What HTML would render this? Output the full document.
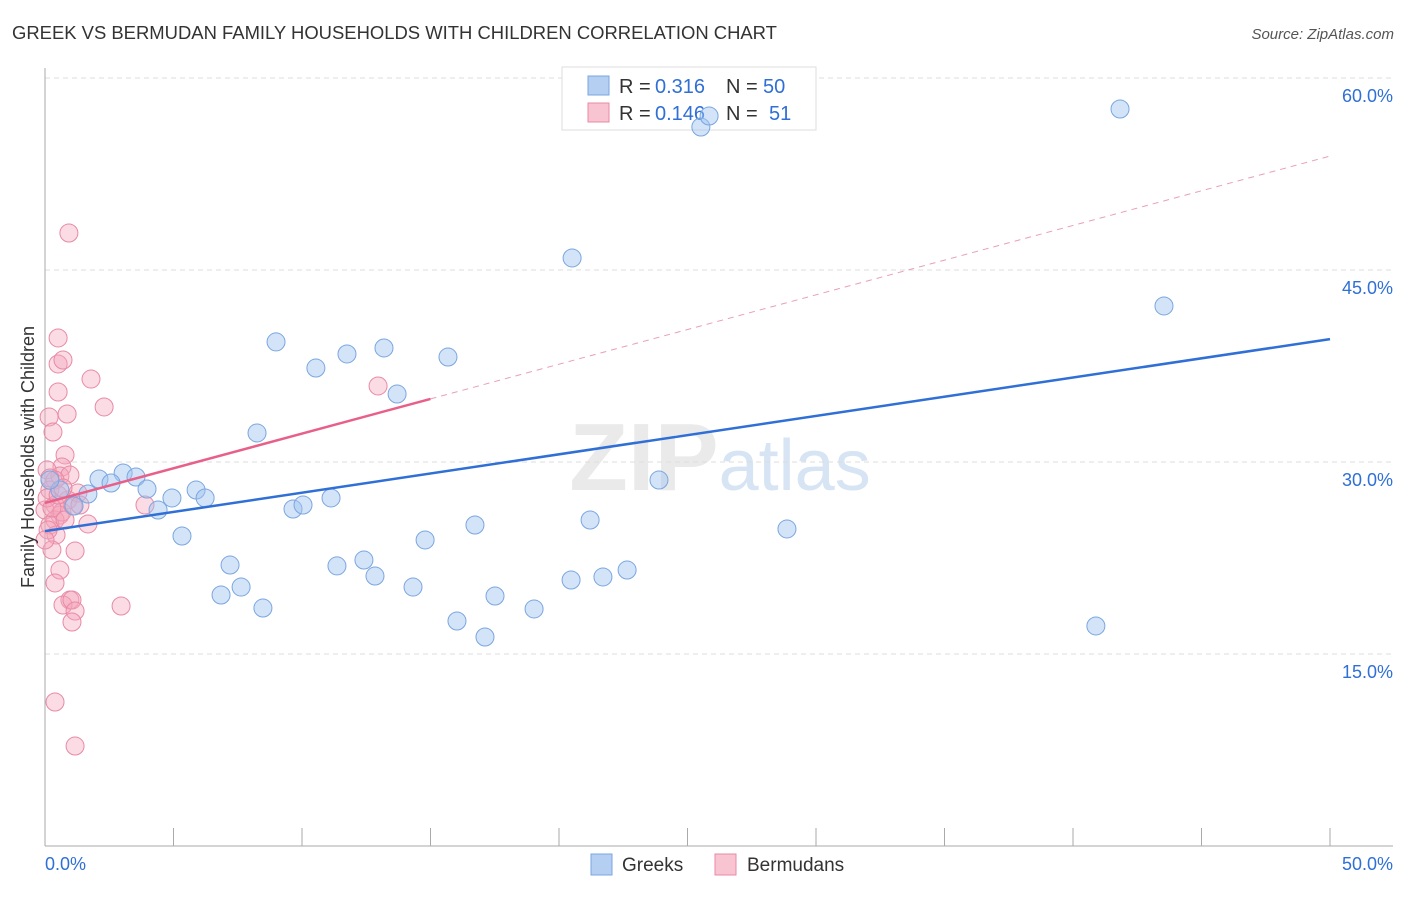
<!DOCTYPE html>
<html><head><meta charset="utf-8"><style>
body{margin:0;background:#fff;font-family:"Liberation Sans",sans-serif}
svg text{font-family:"Liberation Sans",sans-serif}
</style></head><body>
<svg id="chart" width="1406" height="892" viewBox="0 0 1406 892" xmlns="http://www.w3.org/2000/svg">
<text x="12" y="39" font-size="18.45" fill="#333">GREEK VS BERMUDAN FAMILY HOUSEHOLDS WITH CHILDREN CORRELATION CHART</text>
<text x="1394" y="39" font-size="15" fill="#555" text-anchor="end" font-style="italic">Source: ZipAtlas.com</text>
<text x="720" y="490" font-size="96" text-anchor="middle" fill="#ddd" opacity="0.6" font-family="Liberation Serif"><tspan font-weight="bold">ZIP</tspan><tspan fill="#bcd3ee" font-family="Liberation Sans" font-size="72">atlas</tspan></text>
<g id="grid"></g>
<g id="axes"></g>
<g>
<rect x="562" y="67" width="254" height="63" fill="#fff" stroke="#ddd"/>
<rect x="588" y="76" width="21" height="19" fill="#b4cff2" stroke="#7aa6e0"/>
<text x="619" y="93" font-size="20" fill="#333">R =</text>
<text x="655" y="93" font-size="20" fill="#2f6fd6">0.316</text>
<text x="726" y="93" font-size="20" fill="#333">N =</text>
<text x="763" y="93" font-size="20" fill="#2f6fd6">50</text>
<rect x="588" y="103" width="21" height="19" fill="#f8c4d2" stroke="#e88aa5"/>
<text x="619" y="120" font-size="20" fill="#333">R =</text>
<text x="655" y="120" font-size="20" fill="#2f6fd6">0.146</text>
<text x="726" y="120" font-size="20" fill="#333">N =</text>
<text x="769" y="120" font-size="20" fill="#2f6fd6">51</text>
</g>
<g id="marks"></g>
<g id="lines"></g>
<text transform="translate(34,457) rotate(-90)" font-size="18" fill="#333" text-anchor="middle">Family Households with Children</text>
<g>
<rect x="591" y="854" width="21" height="21" fill="#b4cff2" stroke="#7aa6e0"/>
<text x="622" y="871" font-size="19" fill="#333">Greeks</text>
<rect x="715" y="854" width="21" height="21" fill="#f8c4d2" stroke="#e88aa5"/>
<text x="747" y="871" font-size="19" fill="#333">Bermudans</text>
</g>
</svg>
<script>
const blueX=[41.83,25.52,25.84,20.51,43.54,8.99,11.75,13.19,15.68,10.54,13.70,8.25,3.04,3.54,2.10,2.57,3.97,1.67,4.94,5.88,6.23,11.13,4.40,1.13,9.65,10.04,23.89,16.73,21.21,28.87,5.33,14.79,7.20,12.41,11.36,12.84,22.65,21.71,20.47,7.63,14.32,6.85,17.51,8.48,19.03,16.03,17.12,40.89,0.58,0.19];
const blueY=[57.58,56.17,57.03,45.94,42.19,39.38,38.44,38.91,38.20,37.34,35.31,32.27,29.14,28.83,28.67,28.36,27.89,27.50,27.19,27.81,27.19,27.19,26.25,26.56,26.33,26.64,28.59,25.08,25.47,24.77,24.22,23.91,21.95,22.34,21.88,21.09,21.56,21.02,20.78,20.23,20.23,19.61,19.53,18.59,18.52,17.58,16.33,17.19,27.81,28.59];
const pinkX=[0.93,0.51,0.51,0.70,1.79,0.51,2.30,0.16,0.86,0.31,0.78,0.66,0.58,0.97,0.08,0.39,0.19,1.28,0.89,0.39,0.0,0.58,0.39,0.19,1.67,3.89,0.66,1.09,0.43,0.12,0.27,1.17,0.58,0.39,0.97,0.70,1.05,1.17,1.05,2.96,0.39,1.17,12.96,0.08,0.27,0.78,0.51,0.19,0.70,1.36,0.0];
const pinkY=[47.89,39.69,37.66,37.97,36.48,35.47,34.30,33.52,33.75,32.34,30.55,29.61,28.91,28.98,29.38,28.59,27.81,27.58,27.03,26.64,26.25,25.86,25.47,25.08,25.16,26.64,26.09,26.56,24.30,24.69,23.13,23.05,21.56,20.55,19.22,18.83,19.22,18.36,17.50,18.75,11.25,7.81,35.94,27.19,26.41,25.47,27.42,28.75,27.97,26.64,23.91];
const yTicks=[15,30,45,60];
const yTickLabels=["15.0%","30.0%","45.0%","60.0%"];
const xTicks=[0,5,10,15,20,25,30,35,40,45,50];
const blueTrend=[24.6,39.6];
const pinkTrend=[26.8,53.9];
const pinkSolidEnd=15;

const NS="http://www.w3.org/2000/svg";
const sx=v=>45+v/50*1285;
const sy=v=>846-v/15*192;
function mk(tag,attrs,parent){const e=document.createElementNS(NS,tag);for(const k in attrs)e.setAttribute(k,attrs[k]);document.getElementById(parent).appendChild(e);return e;}

yTicks.forEach((t,i)=>{
  const g=mk('line',{x1:45,x2:1393,y1:sy(t),y2:sy(t),stroke:'#ddd','stroke-dasharray':'5,4'},'grid');
  
  
  const l=mk('text',{x:1393,y:sy(t)+24,'font-size':18,fill:'#2f6fd6','text-anchor':'end'},'axes');
  l.textContent=yTickLabels[i];
  
  
});
{
const top=mk('line',{x1:45,x2:1393,y1:78,y2:78,stroke:'#ddd','stroke-dasharray':'5,4'},'grid');


}
const ya=mk('line',{x1:45,x2:45,y1:68,y2:846,stroke:'#aaa'},'axes');


const xa=mk('line',{x1:45,x2:1393,y1:846,y2:846,stroke:'#aaa'},'axes');


xTicks.forEach(t=>{
  const tk=mk('line',{x1:sx(t),x2:sx(t),y1:828,y2:846,stroke:'#aaa'},'axes');
  
  
});
const xl0=mk('text',{x:45,y:870,'font-size':18,fill:'#2f6fd6'},'axes');xl0.textContent='0.0%';


const xl1=mk('text',{x:1393,y:870,'font-size':18,fill:'#2f6fd6','text-anchor':'end'},'axes');xl1.textContent='50.0%';



pinkX.forEach((x,i)=>{
  const c=mk('circle',{cx:sx(x),cy:sy(pinkY[i]),r:9,fill:'rgba(245,165,188,0.4)',stroke:'#e88aa5','stroke-width':1},'marks');
  
  
});
blueX.forEach((x,i)=>{
  const c=mk('circle',{cx:sx(x),cy:sy(blueY[i]),r:9,fill:'rgba(160,195,240,0.45)',stroke:'#7aa6e0','stroke-width':1},'marks');
  
  
});
const bl=mk('line',{x1:sx(0),y1:sy(blueTrend[0]),x2:sx(50),y2:sy(blueTrend[1]),stroke:'#2f6fd6','stroke-width':2.5},'lines');


const pAt=x=>pinkTrend[0]+(pinkTrend[1]-pinkTrend[0])*x/50;
const pl=mk('line',{x1:sx(0),y1:sy(pAt(0)),x2:sx(pinkSolidEnd),y2:sy(pAt(pinkSolidEnd)),stroke:'#e8608a','stroke-width':2.5},'lines');


const pd=mk('line',{x1:sx(pinkSolidEnd),y1:sy(pAt(pinkSolidEnd)),x2:sx(50),y2:sy(pAt(50)),stroke:'#e8a0b5','stroke-width':1,'stroke-dasharray':'6,5'},'lines');


</script>
</body></html>
